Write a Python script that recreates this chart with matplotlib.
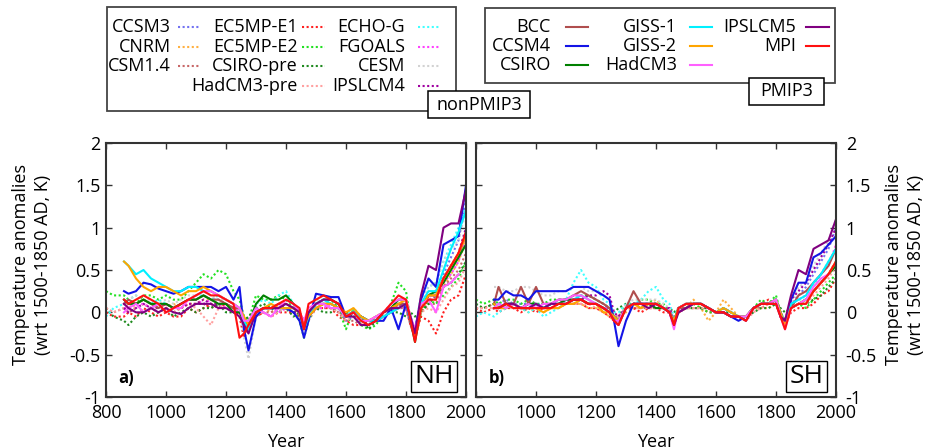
import numpy as np
import matplotlib
matplotlib.use("Agg")
import matplotlib.pyplot as plt
from matplotlib.lines import Line2D
from matplotlib.patches import Rectangle

plt.rcParams['font.family'] = ['Open Sans', 'DejaVu Sans']
plt.rcParams['axes.unicode_minus'] = False

nan = float('nan')

# sample years (denser around the big eruptions)
years = [800, 825, 860, 875, 900, 925, 950, 975, 1000, 1025,
         1050, 1075, 1100, 1125, 1150, 1175, 1200, 1225, 1245, 1260,
         1275, 1300, 1325, 1350, 1375, 1400, 1425, 1445, 1460, 1475,
         1500, 1525, 1550, 1575, 1600, 1625, 1650, 1675, 1700, 1725,
         1750, 1775, 1800, 1815, 1830, 1850, 1875, 1900, 1925, 1950,
         1975, 2000]

# ---- non-PMIP3 models (dotted) ----
nonpmip_names = ['CCSM3', 'CNRM', 'CSM1.4', 'EC5MP-E1', 'EC5MP-E2', 'CSIRO-pre',
                 'HadCM3-pre', 'ECHO-G', 'FGOALS', 'CESM', 'IPSLCM4']
nonpmip_colors = ['#7272f2', '#ffb040', '#c86868', '#ff2020', '#22e022', '#1f8a1f',
                  '#ffa0a0', '#40ffff', '#ff40ff', '#d2d2d2', '#a000a0']

ccsm3_nh = [nan, nan, 0.15, 0.1, 0.1, 0.15, 0.1, 0.05, 0.1, 0.05,
            0.1, 0.15, 0.15, 0.2, 0.15, 0.15, 0.1, 0.05, 0.05, -0.15,
            -0.2, 0.0, 0.05, 0.05, 0.05, 0.05, 0.0, -0.05, -0.2, -0.05,
            0.1, 0.1, 0.1, 0.05, -0.1, -0.05, -0.1, -0.15, -0.05, 0.0,
            0.05, 0.1, 0.05, -0.15, -0.25, 0.05, 0.2, 0.2, 0.45, 0.65,
            0.85, 1.35]
cnrm_nh = [nan, nan, 0.05, 0.05, 0.1, 0.15, 0.1, 0.05, 0.05, 0.1,
           0.05, 0.1, 0.1, 0.15, 0.15, 0.1, 0.1, 0.05, 0.0, -0.1,
           -0.2, 0.0, 0.05, 0.0, 0.05, 0.05, 0.05, 0.0, -0.15, -0.05,
           0.05, 0.1, 0.05, 0.05, -0.05, 0.05, -0.05, -0.1, -0.05, 0.0,
           0.05, 0.1, 0.1, -0.1, -0.25, 0.0, 0.15, 0.15, 0.3, 0.45,
           0.6, 0.85]
csm14_nh = [0.05, 0.0, 0.05, 0.0, 0.05, 0.1, 0.05, 0.0, 0.05, 0.0,
            0.05, 0.1, 0.1, 0.1, 0.05, 0.1, 0.05, 0.0, 0.0, -0.2,
            -0.15, -0.05, 0.0, 0.0, 0.05, 0.05, 0.0, -0.05, -0.2, -0.1,
            0.05, 0.05, 0.05, 0.0, -0.1, -0.1, -0.15, -0.15, -0.1, -0.05,
            0.0, 0.05, 0.05, -0.15, -0.3, 0.0, 0.1, 0.1, 0.3, 0.4,
            0.5, 0.7]
ec5e1_nh = [0.0, -0.05, -0.05, 0.0, -0.05, 0.05, 0.0, -0.05, 0.0, -0.05,
            -0.05, 0.05, 0.0, 0.05, 0.1, 0.05, 0.1, 0.05, -0.05, -0.3,
            -0.2, -0.05, 0.0, -0.05, 0.0, 0.0, 0.0, -0.05, -0.2, -0.05,
            0.05, 0.05, 0.05, -0.05, -0.1, -0.15, -0.15, -0.1, -0.1, -0.05,
            0.0, 0.1, 0.05, -0.15, -0.3, -0.05, -0.1, -0.25, 0.0, 0.15,
            0.2, 0.45]
ec5e2_nh = [0.25, 0.2, 0.2, 0.15, 0.1, 0.2, 0.2, 0.15, 0.2, 0.15,
            0.15, 0.25, 0.35, 0.45, 0.4, 0.5, 0.45, 0.25, 0.15, -0.05,
            -0.1, 0.2, 0.15, 0.15, 0.2, 0.15, 0.05, -0.1, -0.3, -0.1,
            0.1, 0.15, 0.15, 0.05, -0.2, 0.05, -0.15, -0.2, -0.15, 0.0,
            0.1, 0.35, 0.25, -0.1, -0.3, 0.0, 0.15, 0.1, 0.2, 0.3,
            0.4, 0.6]
csiropre_nh = [0.05, -0.05, -0.1, -0.15, -0.05, 0.0, -0.05, 0.0, 0.05, -0.05,
               0.0, 0.05, 0.0, 0.05, 0.05, 0.1, 0.0, 0.0, 0.0, -0.1,
               -0.05, 0.05, 0.1, 0.05, 0.0, 0.05, -0.05, 0.0, -0.1, 0.0,
               0.05, 0.0, 0.0, 0.05, 0.0, -0.05, -0.05, -0.2, -0.1, -0.05,
               0.0, 0.0, -0.05, 0.0, -0.05, 0.0, 0.1, 0.2, 0.3, 0.35,
               0.45, 0.6]
hadpre_nh = [0.05, 0.0, 0.05, 0.1, 0.05, 0.1, 0.05, 0.0, 0.05, 0.0,
             0.05, 0.1, 0.05, -0.05, -0.15, 0.05, 0.1, 0.05, 0.0, -0.2,
             -0.15, 0.0, 0.0, -0.05, 0.0, 0.05, 0.0, -0.05, -0.2, -0.05,
             0.05, 0.1, 0.05, 0.0, -0.1, -0.05, -0.1, -0.1, -0.1, -0.05,
             0.0, 0.05, 0.1, -0.1, -0.25, 0.0, 0.05, 0.0, 0.15, 0.3,
             0.35, 0.55]
echog_nh = [-0.05, 0.05, 0.1, 0.15, 0.2, 0.15, 0.1, 0.15, 0.1, 0.05,
            0.1, 0.15, 0.2, 0.2, 0.15, 0.2, 0.15, 0.1, 0.05, -0.15,
            -0.2, 0.1, 0.15, 0.1, 0.2, 0.25, 0.1, 0.0, -0.15, 0.0,
            0.05, 0.1, 0.15, 0.1, -0.05, 0.05, -0.1, -0.1, -0.05, 0.0,
            0.05, 0.1, 0.15, -0.05, -0.2, 0.2, 0.3, 0.35, 0.6, 0.8,
            1.0, 1.25]
fgoals_nh = [nan, nan, 0.05, 0.05, 0.1, 0.1, 0.05, 0.1, 0.1, 0.05,
             0.1, 0.15, 0.15, 0.1, 0.15, 0.1, 0.05, 0.05, 0.0, -0.1,
             -0.15, 0.0, 0.05, 0.05, 0.0, 0.05, 0.05, 0.0, -0.1, 0.0,
             0.05, 0.05, 0.1, 0.05, -0.05, 0.0, -0.05, -0.1, -0.05, 0.0,
             0.0, 0.05, 0.05, -0.1, -0.2, 0.05, 0.15, 0.2, 0.35, 0.45,
             0.6, 0.9]
cesm_nh = [nan, nan, 0.1, 0.15, 0.2, 0.15, 0.15, 0.1, 0.15, 0.1,
           0.15, 0.2, 0.2, 0.25, 0.2, 0.15, 0.15, 0.1, 0.05, -0.3,
           -0.55, -0.05, 0.05, 0.1, 0.05, 0.05, 0.05, 0.0, -0.25, -0.1,
           0.15, 0.15, 0.15, 0.1, -0.05, 0.0, -0.05, -0.15, -0.1, -0.05,
           0.05, 0.1, 0.15, -0.1, -0.3, 0.1, 0.3, 0.35, 0.6, 0.75,
           0.85, 1.2]
ipsl4_nh = [nan, nan, 0.05, 0.0, 0.05, 0.1, 0.05, 0.05, 0.1, 0.05,
            0.05, 0.1, 0.1, 0.15, 0.1, 0.1, 0.1, 0.05, 0.05, -0.15,
            -0.15, 0.0, 0.05, 0.05, 0.1, 0.05, 0.0, 0.0, -0.15, -0.05,
            0.05, 0.1, 0.1, 0.05, -0.05, 0.0, -0.1, -0.1, -0.1, 0.0,
            0.05, 0.1, 0.1, -0.1, -0.25, 0.05, 0.2, 0.25, 0.4, 0.55,
            0.7, 1.0]

ccsm3_sh = [nan, nan, 0.1, 0.1, 0.15, 0.1, 0.1, 0.1, 0.1, 0.1,
            0.1, 0.15, 0.15, 0.15, 0.15, 0.2, 0.15, 0.1, 0.05, -0.05,
            -0.1, 0.05, 0.1, 0.1, 0.1, 0.1, 0.05, 0.05, -0.1, 0.05,
            0.05, 0.1, 0.1, 0.05, 0.0, 0.05, 0.0, -0.05, -0.05, 0.05,
            0.1, 0.1, 0.15, 0.0, -0.1, 0.1, 0.2, 0.3, 0.45, 0.6,
            0.75, 1.0]
cnrm_sh = [nan, nan, 0.05, 0.05, 0.1, 0.05, 0.05, 0.0, 0.05, 0.0,
           0.05, 0.05, 0.1, 0.1, 0.1, 0.05, 0.05, 0.0, -0.05, -0.1,
           -0.05, 0.0, 0.05, 0.05, 0.1, 0.15, 0.05, 0.0, -0.1, 0.0,
           0.05, 0.15, 0.05, -0.1, 0.0, 0.15, 0.05, -0.05, -0.05, 0.05,
           0.05, 0.05, 0.1, 0.0, -0.15, 0.05, 0.1, 0.1, 0.25, 0.35,
           0.45, 0.6]
csm14_sh = [0.05, 0.05, 0.1, 0.05, 0.05, 0.1, 0.05, 0.05, 0.1, 0.05,
            0.05, 0.1, 0.1, 0.1, 0.15, 0.1, 0.1, 0.05, 0.05, -0.05,
            -0.05, 0.05, 0.05, 0.05, 0.05, 0.05, 0.05, 0.0, -0.1, 0.0,
            0.05, 0.05, 0.05, 0.05, 0.0, 0.0, -0.05, -0.05, -0.05, 0.05,
            0.05, 0.1, 0.1, -0.05, -0.15, 0.05, 0.1, 0.15, 0.25, 0.35,
            0.45, 0.6]
ec5e1_sh = [0.05, 0.0, 0.05, 0.0, 0.05, 0.05, 0.0, 0.05, 0.0, 0.05,
            0.05, 0.05, 0.1, 0.1, 0.1, 0.05, 0.05, 0.0, -0.05, -0.1,
            -0.05, 0.05, 0.05, 0.0, 0.05, 0.05, 0.0, 0.0, -0.1, 0.0,
            0.05, 0.05, 0.05, 0.0, 0.0, 0.0, -0.05, -0.05, -0.05, 0.05,
            0.1, 0.15, 0.1, -0.05, -0.15, 0.0, 0.05, 0.05, 0.1, 0.2,
            0.25, 0.4]
ec5e2_sh = [0.15, 0.1, 0.15, 0.1, 0.15, 0.15, 0.1, 0.15, 0.1, 0.1,
            0.15, 0.15, 0.15, 0.2, 0.2, 0.2, 0.15, 0.1, 0.05, -0.05,
            -0.05, 0.1, 0.1, 0.15, 0.15, 0.1, 0.1, 0.0, -0.15, 0.0,
            0.05, 0.1, 0.05, 0.0, 0.0, 0.05, 0.0, -0.05, -0.05, 0.05,
            0.15, 0.1, 0.2, 0.0, -0.15, 0.05, 0.1, 0.05, 0.15, 0.25,
            0.35, 0.45]
csiropre_sh = [0.1, 0.05, 0.1, 0.05, 0.1, 0.1, 0.05, 0.1, 0.1, 0.05,
               0.1, 0.1, 0.1, 0.15, 0.15, 0.1, 0.1, 0.05, 0.05, 0.0,
               0.05, 0.1, 0.1, 0.05, 0.1, 0.1, 0.05, 0.05, 0.0, 0.05,
               0.05, 0.05, 0.05, 0.05, 0.0, 0.0, 0.0, -0.05, -0.05, 0.0,
               0.05, 0.05, 0.1, 0.05, 0.0, 0.05, 0.1, 0.1, 0.15, 0.2,
               0.3, 0.4]
hadpre_sh = [0.05, 0.05, 0.05, 0.1, 0.05, 0.05, 0.05, 0.1, 0.05, 0.05,
             0.05, 0.1, 0.1, 0.1, 0.1, 0.1, 0.05, 0.05, 0.0, -0.05,
             -0.05, 0.05, 0.05, 0.05, 0.05, 0.05, 0.05, 0.0, -0.1, 0.0,
             0.05, 0.05, 0.05, 0.05, 0.0, 0.0, -0.05, -0.05, -0.1, 0.0,
             0.05, 0.1, 0.1, -0.05, -0.15, 0.05, 0.1, 0.1, 0.2, 0.3,
             0.4, 0.55]
echog_sh = [-0.05, 0.0, -0.05, 0.0, 0.05, 0.1, 0.05, 0.0, 0.05, -0.05,
            0.0, 0.05, 0.15, 0.35, 0.5, 0.35, 0.3, 0.15, 0.1, 0.0,
            0.0, 0.1, 0.1, 0.15, 0.25, 0.3, 0.15, 0.1, -0.05, 0.05,
            0.05, 0.1, 0.1, 0.05, 0.0, 0.05, 0.0, -0.05, -0.05, 0.05,
            0.1, 0.1, 0.1, 0.0, -0.1, 0.1, 0.15, 0.15, 0.3, 0.45,
            0.6, 0.75]
fgoals_sh = [nan, nan, 0.1, 0.1, 0.1, 0.1, 0.05, 0.1, 0.1, 0.05,
             0.1, 0.1, 0.15, 0.15, 0.15, 0.1, 0.1, 0.05, 0.05, -0.05,
             -0.05, 0.05, 0.1, 0.1, 0.1, 0.1, 0.05, 0.05, -0.1, 0.0,
             0.05, 0.1, 0.1, 0.05, 0.0, 0.0, -0.05, -0.05, -0.05, 0.05,
             0.1, 0.1, 0.15, 0.0, -0.15, 0.1, 0.15, 0.2, 0.35, 0.45,
             0.55, 0.8]
cesm_sh = [nan, nan, 0.3, 0.3, 0.25, 0.25, 0.3, 0.3, 0.25, 0.2,
           0.2, 0.25, 0.25, 0.3, 0.3, 0.25, 0.25, 0.2, 0.15, -0.05,
           -0.1, 0.1, 0.15, 0.15, 0.15, 0.15, 0.1, 0.05, -0.1, 0.05,
           0.1, 0.1, 0.1, 0.05, 0.0, 0.05, 0.0, -0.05, -0.05, 0.05,
           0.1, 0.1, 0.15, 0.0, -0.15, 0.1, 0.3, 0.35, 0.55, 0.7,
           0.85, 1.1]
ipsl4_sh = [nan, nan, 0.1, 0.05, 0.1, 0.1, 0.05, 0.1, 0.1, 0.05,
            0.05, 0.1, 0.15, 0.15, 0.15, 0.2, 0.2, 0.25, 0.2, 0.0,
            -0.05, 0.05, 0.1, 0.1, 0.1, 0.1, 0.05, 0.05, -0.1, 0.0,
            0.05, 0.1, 0.1, 0.05, 0.0, 0.05, 0.0, -0.05, -0.05, 0.05,
            0.1, 0.1, 0.15, 0.0, -0.1, 0.15, 0.25, 0.35, 0.5, 0.65,
            0.8, 1.0]

# ---- PMIP3 models (solid) ----
pmip_names = ['BCC', 'CCSM4', 'CSIRO', 'GISS-1', 'GISS-2', 'HadCM3', 'IPSLCM5', 'MPI']
pmip_colors = ['#b04e4e', '#1414e6', '#008000', '#00f0ff', '#ffa500', '#ff60ff',
               '#800080', '#ff1010']

bcc_nh = [nan, nan, 0.1, 0.15, 0.1, 0.15, 0.1, 0.05, 0.1, 0.05,
          0.1, 0.15, 0.15, 0.2, 0.15, 0.15, 0.1, 0.05, 0.05, -0.15,
          -0.2, 0.0, 0.05, 0.05, 0.1, 0.1, 0.05, 0.0, -0.15, 0.0,
          0.1, 0.1, 0.1, 0.05, -0.05, 0.0, -0.05, -0.1, -0.1, 0.0,
          0.05, 0.1, 0.1, -0.1, -0.3, 0.05, 0.2, 0.2, 0.4, 0.55,
          0.65, 0.95]
ccsm4_nh = [nan, nan, 0.25, 0.22, 0.25, 0.35, 0.33, 0.28, 0.25, 0.22,
            0.25, 0.3, 0.3, 0.3, 0.3, 0.25, 0.3, 0.15, 0.3, -0.2,
            -0.45, -0.05, 0.05, 0.05, 0.05, 0.05, 0.0, -0.1, -0.3, -0.1,
            0.22, 0.2, 0.18, 0.18, -0.05, 0.0, -0.05, -0.1, -0.1, -0.1,
            0.05, -0.2, 0.1, -0.1, -0.2, 0.15, 0.4, 0.3, 0.8, 0.85,
            0.9, 1.5]
csiro_nh = [nan, nan, 0.15, 0.1, 0.1, 0.15, 0.1, 0.1, 0.1, 0.05,
            0.1, 0.15, 0.15, 0.2, 0.15, 0.1, 0.1, 0.0, 0.0, -0.1,
            -0.15, 0.1, 0.2, 0.15, 0.15, 0.2, 0.1, 0.0, -0.15, 0.0,
            0.1, 0.15, 0.15, 0.1, -0.05, 0.0, -0.05, -0.1, -0.1, 0.0,
            0.05, 0.15, 0.15, -0.1, -0.35, 0.05, 0.2, 0.25, 0.35, 0.5,
            0.65, 0.8]
giss1_nh = [nan, nan, 0.6, 0.55, 0.45, 0.5, 0.4, 0.35, 0.3, 0.25,
            0.25, 0.3, 0.3, 0.25, 0.25, 0.2, 0.15, 0.1, 0.05, -0.1,
            -0.2, 0.0, 0.05, 0.05, 0.05, 0.05, 0.05, 0.0, -0.2, -0.05,
            0.1, 0.15, 0.1, 0.05, -0.05, 0.0, -0.05, -0.1, -0.1, -0.05,
            0.0, 0.05, 0.1, -0.1, -0.3, 0.1, 0.25, 0.25, 0.5, 0.75,
            0.95, 1.2]
giss2_nh = [nan, nan, 0.6, 0.55, 0.4, 0.3, 0.25, 0.3, 0.3, 0.25,
            0.2, 0.25, 0.25, 0.3, 0.25, 0.2, 0.15, 0.1, 0.05, -0.05,
            -0.15, 0.0, 0.05, 0.1, 0.05, 0.05, 0.05, 0.0, -0.15, -0.05,
            0.05, 0.1, 0.1, 0.05, 0.0, 0.05, -0.05, -0.1, -0.05, 0.0,
            0.05, 0.1, 0.15, -0.05, -0.3, 0.05, 0.2, 0.2, 0.4, 0.55,
            0.7, 0.9]
hadcm3_nh = [nan, nan, 0.0, 0.05, 0.1, 0.0, 0.05, 0.1, 0.0, 0.05,
             0.05, 0.15, 0.2, 0.25, 0.25, 0.2, 0.15, 0.1, 0.05, -0.1,
             -0.1, 0.05, 0.0, -0.05, 0.05, 0.15, 0.1, 0.0, -0.1, 0.05,
             0.1, 0.1, 0.05, 0.05, -0.05, 0.0, -0.1, -0.1, -0.05, 0.0,
             0.1, 0.15, 0.15, -0.05, -0.2, 0.1, 0.15, 0.0, 0.3, 0.35,
             0.45, nan]
ipsl5_nh = [nan, nan, 0.1, 0.05, 0.0, 0.0, 0.05, 0.0, 0.05, 0.0,
            -0.02, 0.05, 0.1, 0.1, 0.1, 0.05, 0.05, 0.0, -0.05, -0.15,
            -0.25, 0.0, 0.05, 0.05, 0.05, 0.1, 0.05, 0.0, -0.2, 0.0,
            0.1, 0.15, 0.15, 0.1, -0.05, -0.05, -0.15, -0.15, -0.1, 0.0,
            0.05, 0.05, 0.1, -0.05, -0.25, 0.2, 0.55, 0.5, 1.0, 1.05,
            1.05, 1.45]
mpi_nh = [nan, nan, 0.15, 0.1, 0.15, 0.2, 0.15, 0.1, 0.0, 0.05,
          0.1, 0.15, 0.2, 0.25, 0.2, 0.2, 0.15, 0.1, -0.3, -0.25,
          -0.15, 0.0, 0.05, 0.05, 0.1, 0.15, 0.1, 0.05, -0.2, 0.1,
          0.15, 0.2, 0.15, 0.1, -0.05, 0.0, -0.1, -0.15, -0.1, 0.0,
          0.1, 0.2, 0.15, -0.1, -0.35, 0.05, 0.15, 0.15, 0.4, 0.55,
          0.7, 0.95]

bcc_sh = [nan, nan, 0.1, 0.3, 0.1, 0.1, 0.3, 0.1, 0.3, 0.1,
          0.1, 0.15, 0.15, 0.2, 0.25, 0.2, 0.15, 0.1, 0.05, -0.05,
          -0.1, 0.05, 0.25, 0.1, 0.1, 0.1, 0.05, 0.0, -0.1, 0.05,
          0.05, 0.1, 0.1, 0.05, 0.0, 0.0, -0.05, -0.05, -0.05, 0.05,
          0.1, 0.1, 0.15, 0.0, -0.15, 0.05, 0.2, 0.25, 0.35, 0.45,
          0.55, 0.75]
ccsm4_sh = [nan, nan, 0.15, 0.15, 0.25, 0.2, 0.2, 0.15, 0.25, 0.25,
            0.25, 0.25, 0.25, 0.3, 0.3, 0.3, 0.25, 0.2, 0.15, -0.1,
            -0.4, -0.1, 0.1, 0.1, 0.1, 0.1, 0.05, 0.0, -0.15, 0.05,
            0.1, 0.1, 0.1, 0.05, 0.0, 0.0, -0.05, -0.1, -0.05, 0.05,
            0.1, 0.1, 0.15, -0.05, -0.15, 0.15, 0.35, 0.35, 0.65, 0.7,
            0.8, 0.9]
csiro_sh = [nan, nan, 0.1, 0.05, 0.1, 0.1, 0.05, 0.1, 0.1, 0.05,
            0.1, 0.1, 0.15, 0.15, 0.15, 0.1, 0.1, 0.05, 0.0, -0.05,
            -0.1, 0.05, 0.1, 0.1, 0.1, 0.05, 0.05, 0.0, -0.1, 0.05,
            0.1, 0.1, 0.1, 0.05, 0.0, 0.0, -0.05, -0.05, -0.05, 0.05,
            0.1, 0.1, 0.15, 0.0, -0.15, 0.05, 0.1, 0.15, 0.25, 0.35,
            0.45, 0.55]
giss1_sh = [nan, nan, 0.05, 0.1, 0.05, 0.1, 0.05, 0.05, 0.1, 0.05,
            0.1, 0.1, 0.1, 0.15, 0.2, 0.15, 0.1, 0.05, 0.0, -0.05,
            -0.1, 0.05, 0.1, 0.1, 0.1, 0.1, 0.05, 0.0, -0.1, 0.05,
            0.1, 0.1, 0.1, 0.05, 0.0, 0.05, 0.0, -0.05, -0.05, 0.05,
            0.1, 0.1, 0.15, 0.0, -0.15, 0.1, 0.15, 0.2, 0.35, 0.45,
            0.6, 0.75]
giss2_sh = [nan, nan, 0.1, 0.05, 0.05, 0.1, 0.05, 0.05, 0.05, 0.0,
            0.05, 0.05, 0.1, 0.1, 0.15, 0.1, 0.1, 0.0, 0.0, -0.05,
            -0.1, 0.05, 0.1, 0.05, 0.1, 0.1, 0.05, 0.0, -0.1, 0.05,
            0.1, 0.1, 0.1, 0.05, 0.0, 0.05, 0.0, -0.05, -0.05, 0.05,
            0.1, 0.1, 0.15, 0.0, -0.15, 0.05, 0.1, 0.15, 0.25, 0.35,
            0.45, 0.6]
hadcm3_sh = [nan, nan, 0.05, 0.1, 0.05, 0.1, 0.05, 0.1, 0.05, 0.1,
             0.1, 0.15, 0.15, 0.2, 0.2, 0.15, 0.1, 0.05, 0.0, -0.1,
             -0.1, 0.05, 0.1, 0.1, 0.1, 0.1, 0.05, 0.0, -0.2, 0.05,
             0.1, 0.1, 0.1, 0.05, 0.0, 0.0, -0.05, -0.05, -0.05, 0.05,
             0.1, 0.1, 0.15, -0.05, -0.2, 0.05, 0.1, 0.15, 0.3, 0.4,
             0.45, nan]
ipsl5_sh = [nan, nan, 0.05, 0.05, 0.1, 0.1, 0.05, 0.05, 0.1, 0.05,
            0.1, 0.1, 0.1, 0.15, 0.15, 0.1, 0.1, 0.05, 0.0, -0.1,
            -0.15, 0.05, 0.1, 0.1, 0.05, 0.1, 0.05, 0.0, -0.15, 0.0,
            0.05, 0.1, 0.1, 0.05, 0.0, 0.0, -0.05, -0.05, -0.1, 0.05,
            0.1, 0.1, 0.1, -0.05, -0.1, 0.2, 0.5, 0.45, 0.75, 0.8,
            0.85, 1.1]
mpi_sh = [nan, nan, 0.05, 0.05, 0.1, 0.05, 0.05, 0.05, 0.05, 0.05,
          0.05, 0.1, 0.1, 0.15, 0.15, 0.1, 0.1, 0.05, 0.0, -0.1,
          -0.15, 0.05, 0.1, 0.1, 0.1, 0.1, 0.05, 0.0, -0.15, 0.05,
          0.1, 0.1, 0.1, 0.05, 0.0, 0.0, -0.05, -0.05, -0.1, 0.05,
          0.1, 0.1, 0.1, -0.05, -0.2, 0.05, 0.1, 0.1, 0.25, 0.35,
          0.45, 0.6]

nonpmip_nh = [ccsm3_nh, cnrm_nh, csm14_nh, ec5e1_nh, ec5e2_nh, csiropre_nh,
              hadpre_nh, echog_nh, fgoals_nh, cesm_nh, ipsl4_nh]
nonpmip_sh = [ccsm3_sh, cnrm_sh, csm14_sh, ec5e1_sh, ec5e2_sh, csiropre_sh,
              hadpre_sh, echog_sh, fgoals_sh, cesm_sh, ipsl4_sh]
pmip_nh = [bcc_nh, ccsm4_nh, csiro_nh, giss1_nh, giss2_nh, hadcm3_nh, ipsl5_nh, mpi_nh]
pmip_sh = [bcc_sh, ccsm4_sh, csiro_sh, giss1_sh, giss2_sh, hadcm3_sh, ipsl5_sh, mpi_sh]

for s in nonpmip_nh + nonpmip_sh + pmip_nh + pmip_sh:
    assert len(s) == len(years), len(s)

W, H = 932, 448
fig = plt.figure(figsize=(W / 100, H / 100), dpi=100)


def fx(x):
    return x / W


def fy(y):
    return 1 - y / H


ax_nh = fig.add_axes([fx(106), fy(397), 360 / W, 254 / H])
ax_sh = fig.add_axes([fx(476), fy(397), 360 / W, 254 / H])

fs = 13
dots = (0, (1, 1.2))
for ax, nonp, pm, hemi, tag in [(ax_nh, nonpmip_nh, pmip_nh, 'NH', 'a)'),
                                (ax_sh, nonpmip_sh, pmip_sh, 'SH', 'b)')]:
    for vals, c in zip(nonp, nonpmip_colors):
        ax.plot(years, vals, ls=dots, lw=1.5, color=c)
    for vals, c in zip(pm, pmip_colors):
        ax.plot(years, vals, ls='-', lw=1.5, color=c)
    ax.set_xlim(800, 2000)
    ax.set_ylim(-1, 2)
    ax.set_xticks(range(800, 2001, 200))
    ax.set_yticks([-1, -0.5, 0, 0.5, 1, 1.5, 2])
    ax.set_yticklabels(['-1', '-0.5', '0', '0.5', '1', '1.5', '2'])
    ax.tick_params(direction='in', length=4, width=1, top=True, right=True,
                   labelsize=fs, color='#333333')
    ax.tick_params(axis='x', pad=5)
    for sp in ax.spines.values():
        sp.set_linewidth(1.5)
        sp.set_color('#333333')
    ax.set_xlabel('Year', fontsize=fs, labelpad=8)
    ax.text(0.035, 0.075, tag, transform=ax.transAxes, fontsize=12,
            fontweight='bold', va='center', ha='left')
    ax.text(0.965, 0.08, hemi, transform=ax.transAxes, fontsize=19,
            va='center', ha='right',
            bbox=dict(boxstyle='square,pad=0.12', fc='white', ec='black', lw=1))

# right panel: no "800" label (it would sit under the left panel's 2000)
ax_sh.set_xticklabels([''] + [str(v) for v in range(1000, 2001, 200)])

ylab = 'Temperature anomalies\n(wrt 1500-1850 AD, K)'
ax_nh.set_ylabel(ylab, fontsize=fs, linespacing=1.3)
ax_nh.yaxis.set_label_coords(-0.15, 0.52)
ax_nh.tick_params(axis='y', pad=4)
ax_sh.tick_params(axis='y', labelleft=False, labelright=True, pad=7)
ax_sh.yaxis.set_label_position('right')
ax_sh.set_ylabel(ylab, fontsize=fs, linespacing=1.3, rotation=90)
ax_sh.yaxis.set_label_coords(1.135, 0.52)


# ---- legends drawn by hand ----
def box(x0, y0, x1, y1, lw=1.3, ec='#444444'):
    fig.add_artist(Rectangle((fx(x0), fy(y1)), fx(x1) - fx(x0), fy(y0) - fy(y1),
                             transform=fig.transFigure, fc='white', ec=ec, lw=lw))


def column(names, colors, col, rows_y, ls):
    for n, c, y in zip(names, colors, rows_y):
        fig.text(fx(col[0]), fy(y), n, ha='right', va='center', fontsize=fs)
        fig.add_artist(Line2D([fx(col[1]), fx(col[2])], [fy(y), fy(y)],
                              transform=fig.transFigure, color=c, lw=1.5, ls=ls))


rows4 = [27, 47, 66, 86]
box(107, 7, 456, 111)
column(nonpmip_names[0:3], nonpmip_colors[0:3], (171, 178, 200), rows4, dots)
column(nonpmip_names[3:7], nonpmip_colors[3:7], (298, 302, 325), rows4, dots)
column(nonpmip_names[7:11], nonpmip_colors[7:11], (405, 418, 440), rows4, dots)
box(428, 91, 530, 118, lw=1.1, ec='black')
fig.text(fx(479), fy(104.5), 'nonPMIP3', ha='center', va='center', fontsize=fs)

rows3 = [27, 46, 65]
box(485, 8, 835, 83)
column(pmip_names[0:3], pmip_colors[0:3], (551, 566, 588), rows3, '-')
column(pmip_names[3:6], pmip_colors[3:6], (677, 690, 712), rows3, '-')
column(pmip_names[6:8], pmip_colors[6:8], (796, 806, 829), rows3, '-')
box(749, 78, 824, 105, lw=1.1, ec='black')
fig.text(fx(786.5), fy(91.5), 'PMIP3', ha='center', va='center', fontsize=fs)

fig.savefig('out.png', dpi=100)
